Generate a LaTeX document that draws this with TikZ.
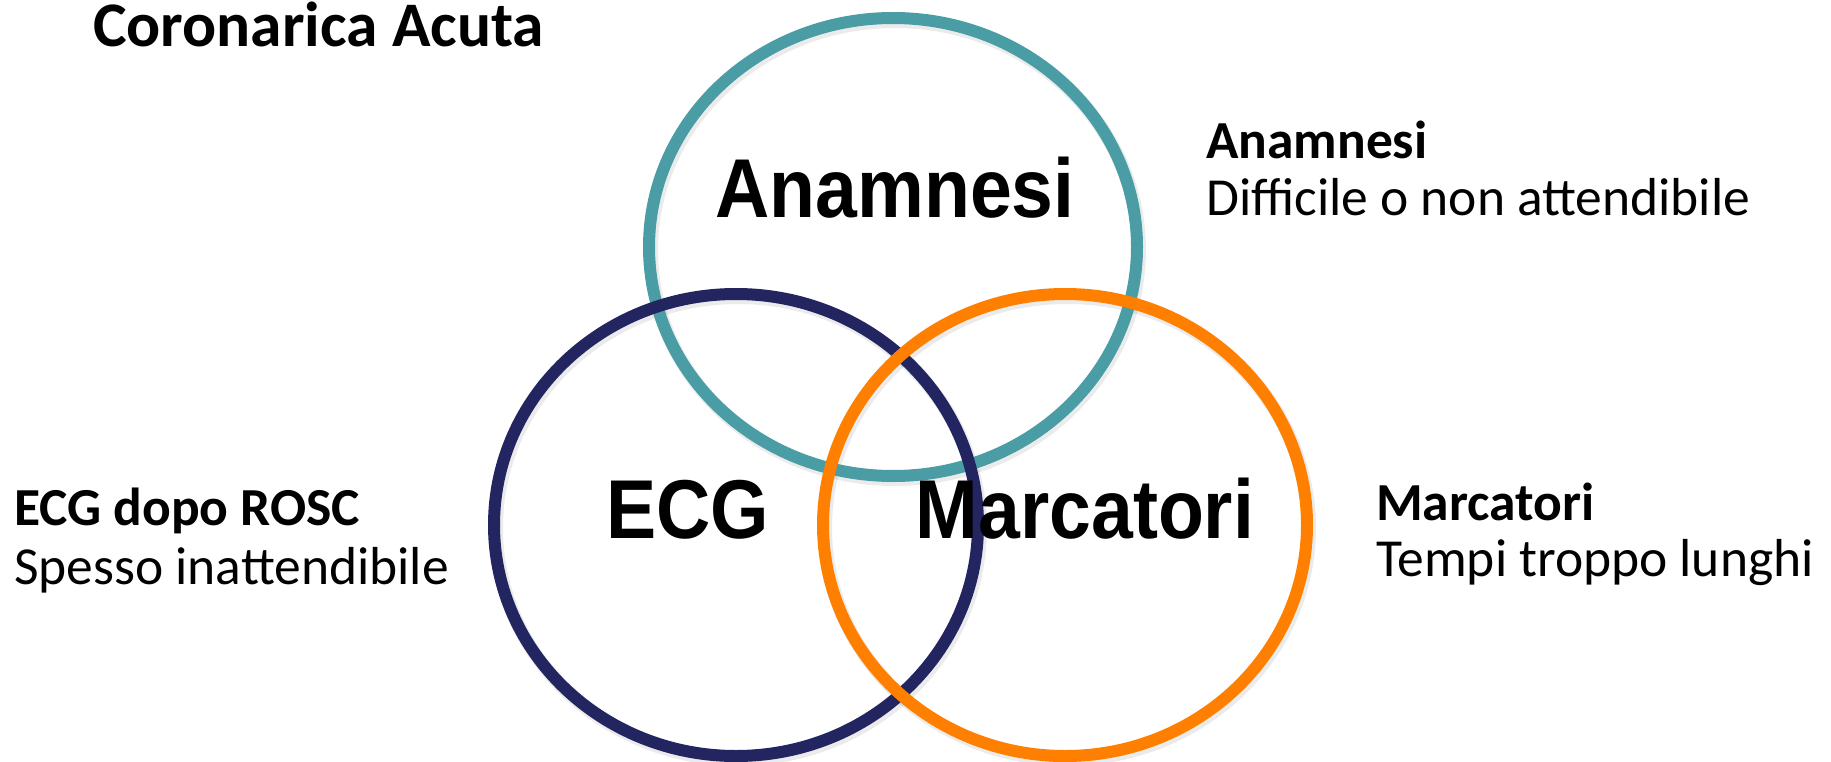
\documentclass[tikz,border=0pt]{standalone}
\usepackage{fontspec}
\setmainfont{Carlito}
\newfontfamily\ringfont[FakeStretch=0.9]{Liberation Sans}
\begin{document}
\begin{tikzpicture}[x=1pt,y=-1pt,
  ring/.style={line width=12pt},
  ringshadow/.style={line width=14pt,draw=black,opacity=0.08},
  biglabel/.style={inner sep=0pt,anchor=base,font=\ringfont\bfseries\fontsize{83.5}{83.5}\selectfont},
  sidehead/.style={inner sep=0pt,anchor=base west,font=\bfseries\fontsize{53.5}{53.5}\selectfont},
  sidetext/.style={inner sep=0pt,anchor=base west,font=\fontsize{53.5}{53.5}\selectfont}]
\definecolor{tealring}{HTML}{4A9DA4}
\definecolor{navyring}{HTML}{232561}
\definecolor{orangering}{HTML}{FF7F00}
\useasboundingbox (0,0) rectangle (1831,762);
% soft shadows under the rings
\draw[ringshadow] (895,250) ellipse [x radius=244, y radius=229];
\draw[ringshadow] (738,528) ellipse [x radius=242, y radius=231];
\draw[ringshadow] (1067,528) ellipse [x radius=242, y radius=231];
% the three rings
\draw[ring,tealring] (893,247) ellipse [x radius=244, y radius=229];
\draw[ring,navyring] (736,525) ellipse [x radius=242, y radius=231];
\draw[ring,orangering] (1065,525) ellipse [x radius=242, y radius=231];
% labels inside the rings
\node[biglabel] (anamnesi) at (895,218) {Anamnesi};
\node[biglabel] (ecg) at (688,538) {ECG};
\node[biglabel] (marcatori) at (1085,538) {Marcatori};
% title
\node[inner sep=0pt,anchor=base west,font=\bfseries\fontsize{63.5}{63.5}\selectfont] (title) at (93,47) {Coronarica Acuta};
% side notes
\node[sidehead] (anahead) at (1206,159) {Anamnesi};
\node[sidetext] (anatext) at (1206,216) {Difficile o non attendibile};
\node[sidehead] (ecghead) at (14,525) {ECG dopo ROSC};
\node[sidetext] (ecgtext) at (14,584) {Spesso inattendibile};
\node[sidehead] (marhead) at (1376,520) {Marcatori};
\node[sidetext] (martext) at (1376,576) {Tempi troppo lunghi};
\end{tikzpicture}
\end{document}
